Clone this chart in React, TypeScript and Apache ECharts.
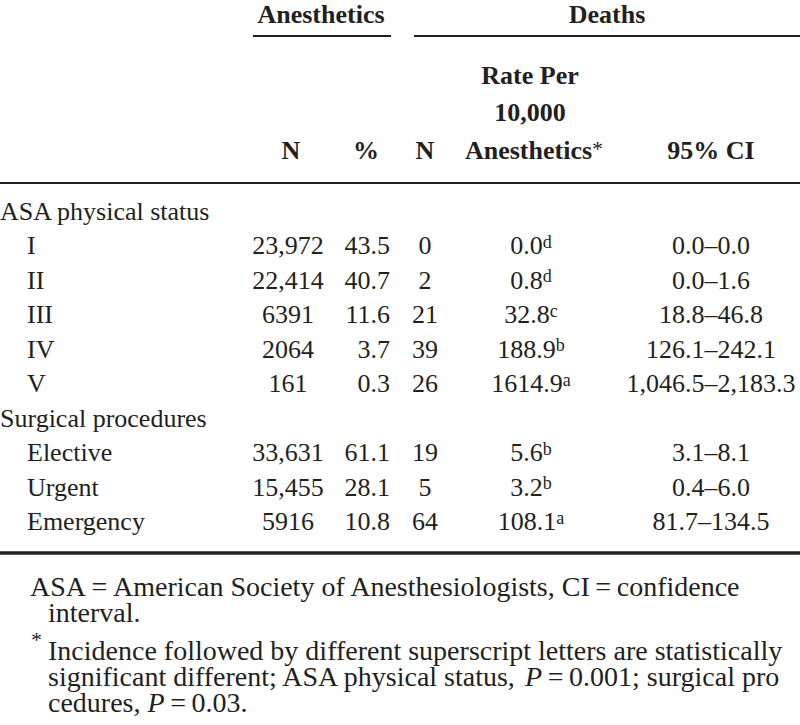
import React, { useEffect, useRef } from "react";
import * as echarts from "echarts";

// ---- Data ----
const groupTitles = ["ASA physical status", "Surgical procedures"];

const asaLabels = ["I", "II", "III", "IV", "V"];
const asaAnesN = ["23,972", "22,414", "6391", "2064", "161"];
const asaPct = ["43.5", "40.7", "11.6", "3.7", "0.3"];
const asaDeathN = ["0", "2", "21", "39", "26"];
const asaRate = ["0.0", "0.8", "32.8", "188.9", "1614.9"];
const asaSup = ["d", "d", "c", "b", "a"];
const asaCI = ["0.0–0.0", "0.0–1.6", "18.8–46.8", "126.1–242.1", "1,046.5–2,183.3"];

const surgLabels = ["Elective", "Urgent", "Emergency"];
const surgAnesN = ["33,631", "15,455", "5916"];
const surgPct = ["61.1", "28.1", "10.8"];
const surgDeathN = ["19", "5", "64"];
const surgRate = ["5.6", "3.2", "108.1"];
const surgSup = ["b", "b", "a"];
const surgCI = ["3.1–8.1", "0.4–6.0", "81.7–134.5"];

const spanHeaders = ["Anesthetics", "Deaths"];
const colHeaders = ["N", "%", "N", "95% CI"];
const rateHeaderLines = ["Rate Per", "10,000", "Anesthetics"];

const FONT = "'Liberation Serif', 'Times New Roman', serif";
const INK = "#231f20";
const EQ = "\u2009=\u2009";

export default function App() {
  const ref = useRef<HTMLDivElement>(null);

  useEffect(() => {
    document.body.style.margin = "0";
    const chart = echarts.init(ref.current!, null, { renderer: "svg" });

    const FS = 26;
    const FN = 28;
    const els: any[] = [];
    const txt = (text: string, x: number, y: number, align: string, opts: any = {}) => {
      els.push({
        type: "text",
        x,
        y,
        style: {
          text,
          fontFamily: FONT,
          fontSize: opts.fontSize || FS,
          fontWeight: opts.bold ? "bold" : "normal",
          fill: INK,
          textAlign: align,
          textVerticalAlign: "middle",
          rich: opts.rich,
        },
      });
    };
    const line = (x1: number, y1: number, x2: number, y2: number, w: number) => {
      els.push({
        type: "line",
        shape: { x1, y1, x2, y2 },
        style: { stroke: INK, lineWidth: w },
      });
    };

    // column positions
    const xLabel0 = 0;
    const xLabel1 = 27;
    const xAnesN = 288;
    const xPctR = 390;
    const xDeathN = 425;
    const xRate = 531;
    const xCI = 711;

    // header
    txt(spanHeaders[0], 321, 14, "center", { bold: true });
    txt(spanHeaders[1], 607, 14, "center", { bold: true });
    line(253, 36, 391, 36, 2);
    line(414, 36, 800, 36, 2);
    txt(rateHeaderLines[0], 530, 75, "center", { bold: true });
    txt(rateHeaderLines[1], 530, 112, "center", { bold: true });
    txt(`{b|${rateHeaderLines[2]}}{s|*}`, 534, 150, "center", {
      rich: {
        b: { fontFamily: FONT, fontSize: FS, fontWeight: "bold", fill: INK },
        s: { fontFamily: FONT, fontSize: 22, fill: INK, verticalAlign: "top" },
      },
    });
    txt(colHeaders[0], 291, 150, "center", { bold: true });
    txt(colHeaders[1], 366, 150, "center", { bold: true });
    txt(colHeaders[2], 425, 150, "center", { bold: true });
    txt(colHeaders[3], 711, 150, "center", { bold: true });
    line(0, 183, 800, 183, 2);

    const y0 = 211;
    const step = 34.5;
    const supRich = {
      v: { fontFamily: FONT, fontSize: FS, fill: INK },
      s: { fontFamily: FONT, fontSize: 18, fill: INK, verticalAlign: "top" },
    };
    const addGroup = (
      title: string,
      startRow: number,
      labels: string[],
      anesN: string[],
      pct: string[],
      dN: string[],
      rate: string[],
      sup: string[],
      ci: string[]
    ) => {
      txt(title, xLabel0, y0 + startRow * step, "left");
      labels.forEach((lab, i) => {
        const y = y0 + (startRow + 1 + i) * step;
        txt(lab, xLabel1, y, "left");
        txt(anesN[i], xAnesN, y, "center");
        txt(pct[i], xPctR, y, "right");
        txt(dN[i], xDeathN, y, "center");
        txt(`{v|${rate[i]}}{s|${sup[i]}}`, xRate, y, "center", { rich: supRich });
        txt(ci[i], xCI, y, "center");
      });
    };
    addGroup(groupTitles[0], 0, asaLabels, asaAnesN, asaPct, asaDeathN, asaRate, asaSup, asaCI);
    addGroup(groupTitles[1], 6, surgLabels, surgAnesN, surgPct, surgDeathN, surgRate, surgSup, surgCI);

    line(0, 553, 800, 553, 3.5);

    // footnotes
    const fnRich = {
      t: { fontFamily: FONT, fontSize: FN, fill: INK },
      i: { fontFamily: FONT, fontSize: FN, fill: INK, fontStyle: "italic" },
    };
    txt(`ASA${EQ}American Society of Anesthesiologists, CI${EQ}confidence`, 30, 586, "left", { fontSize: FN });
    txt("interval.", 48, 612, "left", { fontSize: FN });
    txt("*", 31, 639, "left", { fontSize: 22 });
    txt("Incidence followed by different superscript letters are statistically", 48, 650, "left", { fontSize: FN });
    txt(`{t|significant different; ASA physical status, }{i|P}{t|${EQ}0.001; surgical pro}`, 48, 676, "left", { rich: fnRich });
    txt(`{t|cedures, }{i|P}{t|${EQ}0.03.}`, 48, 702, "left", { rich: fnRich });

    chart.setOption({
      animation: false,
      backgroundColor: "#ffffff",
      graphic: { elements: els },
    });

    return () => chart.dispose();
  }, []);

  return (
    <div
      ref={ref}
      style={{ position: "fixed", left: 0, top: 0, width: 800, height: 725, background: "#fff" }}
    />
  );
}
